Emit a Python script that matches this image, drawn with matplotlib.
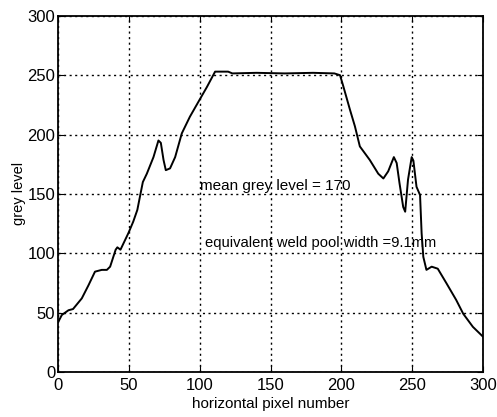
import matplotlib.pyplot as plt

plt.rcParams['font.family'] = ['Liberation Sans', 'DejaVu Sans']

# grey level profile
pixel = [0, 2.6, 7.3, 10.5, 16.7, 21.4, 26, 30.8, 34.4, 36.7, 40.6, 41.8, 44, 46,
         49.6, 53, 55.9, 57.3, 59.8, 62.6, 67.3, 70.8, 72.5, 74.4, 76, 79, 82.6,
         87.3, 93, 99.7, 105, 110.8, 120, 123, 140, 160, 180, 195, 199, 201, 206,
         209.5, 213, 220, 226, 229.6, 233, 237, 239, 241, 243.6, 245, 247, 249.6,
         250.8, 253, 255.5, 256.6, 257.8, 260, 263.7, 268, 274, 281, 286, 292.8, 299.7]
grey = [42, 48, 52, 53, 62, 73, 84.5, 86, 86, 88.7, 103, 105, 103, 108,
        117, 126.6, 136.5, 145, 160, 167, 181, 195, 193, 178.6, 170, 171.5, 181,
        201, 215, 229, 240, 253, 253, 251.5, 252, 251.5, 252, 251.5, 250, 242, 221,
        207, 190, 178.6, 167, 163, 169, 181, 176, 159, 139, 135, 162, 181,
        178, 156, 149, 117, 97, 86, 88.7, 87, 75, 60.7, 49, 38, 30]

x_ticks = [0, 50, 100, 150, 200, 250, 300]
y_ticks = [0, 50, 100, 150, 200, 250, 300]

fig = plt.figure(figsize=(4.97, 4.17), dpi=100)
ax = fig.add_axes([0.117, 0.108, 0.855, 0.854])

ax.plot(pixel, grey, color='black', linewidth=1.4)

ax.set_xlim(0, 300)
ax.set_ylim(0, 300)
ax.set_xticks(x_ticks)
ax.set_yticks(y_ticks)
ax.grid(True, linestyle=(0, (1.5, 2.5)), color='black', linewidth=1.0)
ax.tick_params(direction='in', top=True, right=True, labelsize=12, length=4)
ax.tick_params(axis='x', pad=4)
ax.tick_params(axis='y', pad=2)
for sp in ax.spines.values():
    sp.set_linewidth(1.3)

ax.set_xlabel('horizontal pixel number', fontsize=11, labelpad=3)
ax.set_ylabel('grey level', fontsize=10.5, labelpad=1)

ax.text(100, 157, 'mean grey level = 170', fontsize=11, va='center')
ax.text(104, 109, 'equivalent weld pool width =9.1mm', fontsize=10.6, va='center')

fig.savefig('out.png', dpi=100)
